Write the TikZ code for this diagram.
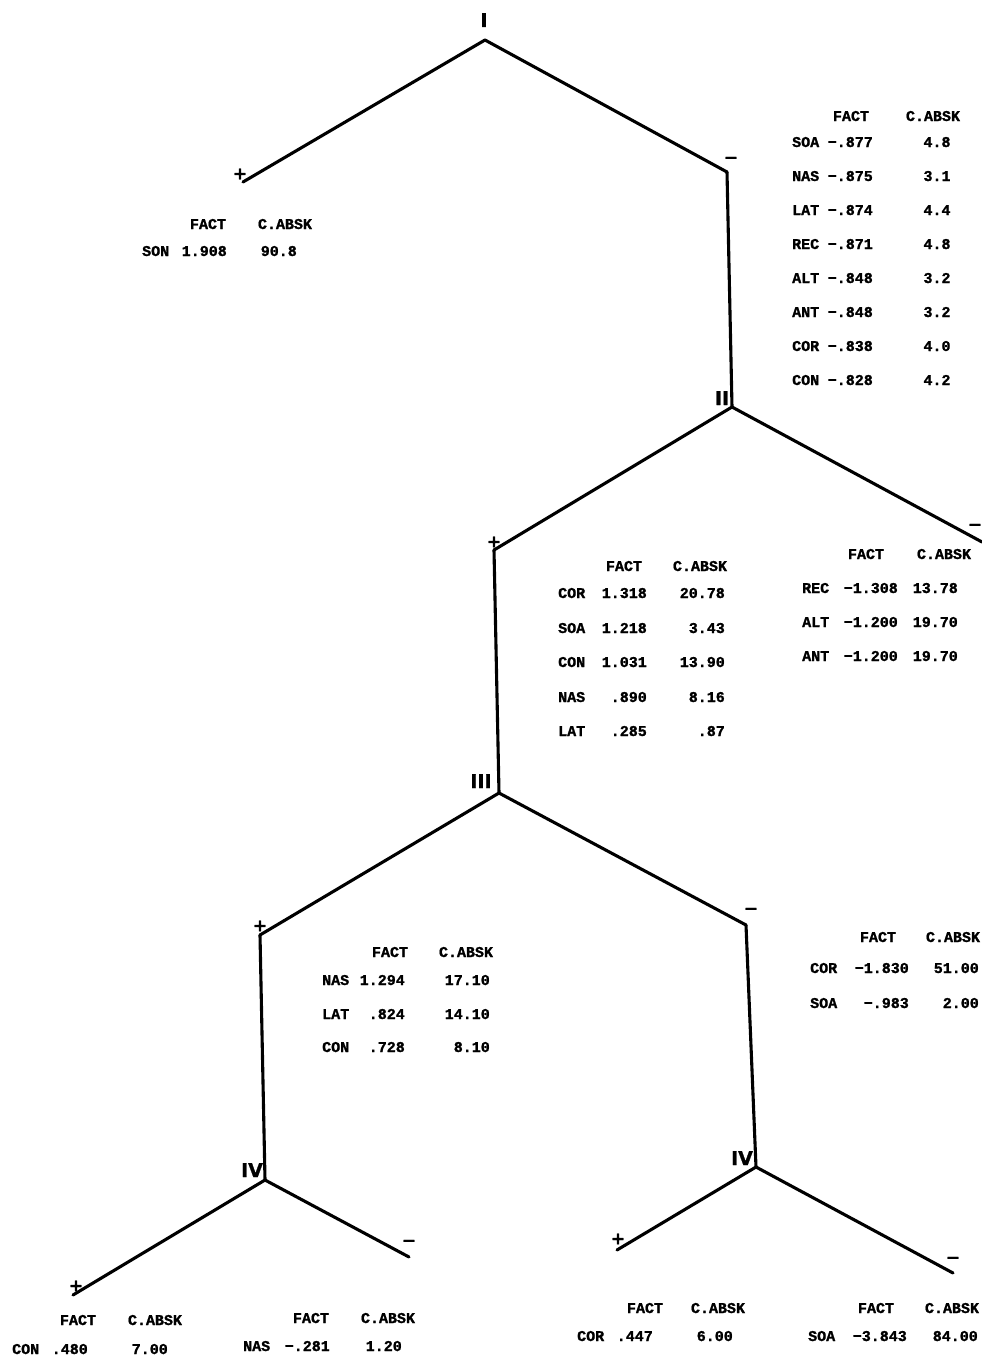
\documentclass[tikz,border=0pt]{standalone}
\usepackage{fontspec}
\setmainfont{DejaVu Sans}
\newfontfamily\tabfont[FakeBold=1.2]{Liberation Mono Bold}
\newfontfamily\signfont[FakeBold=1]{DejaVu Sans Bold}
\begin{document}
\begin{tikzpicture}[x=1pt,y=-1pt,
  br/.style={line width=3.1pt, line cap=round, line join=round},
  tx/.style={font=\tabfont\fontsize{15}{15}\selectfont, inner sep=0pt, text height=10pt, text depth=0pt},
  hd/.style={tx, anchor=center},
  nm/.style={tx, anchor=west},
  vl/.style={tx, anchor=east},
  sg/.style={font=\signfont\fontsize{17}{17}\selectfont, inner sep=0pt},
  rn/.style={font=\signfont\fontsize{19}{19}\selectfont, inner sep=0pt, text height=14pt, text depth=0pt}]
\fill[white] (0,0) rectangle (982,1357);
\useasboundingbox (0,0) rectangle (982,1357);

% ---------- junctions and branch ends ----------
\coordinate (jI) at (485,40);
\coordinate (eIp) at (243,182);
\coordinate (eIm) at (727,172);
\coordinate (jII) at (732,407);
\coordinate (eIIp) at (494,550);
\coordinate (eIIm) at (982,542);
\coordinate (jIII) at (499,793);
\coordinate (eIIIp) at (260,935);
\coordinate (eIIIm) at (746,925);
\coordinate (jIVa) at (265,1180);
\coordinate (jIVb) at (756,1167);
\coordinate (eIVap) at (73,1295);
\coordinate (eIVam) at (409,1257);
\coordinate (eIVbp) at (617,1250);
\coordinate (eIVbm) at (953,1273);

% ---------- branches ----------
\draw[br] (eIp) -- (jI) -- (eIm);
\draw[br] (eIm) -- (jII);
\draw[br] (eIIp) -- (jII) -- (eIIm);
\draw[br] (eIIp) -- (jIII);
\draw[br] (eIIIp) -- (jIII) -- (eIIIm);
\draw[br] (eIIIp) -- (jIVa);
\draw[br] (eIIIm) -- (jIVb);
\draw[br] (eIVap) -- (jIVa) -- (eIVam);
\draw[br] (eIVbp) -- (jIVb) -- (eIVbm);

% ---------- roman labels ----------
\node[rn] (lI) at (484,20) {I};
\node[rn] (lII) at (722,398) {II};
\node[rn] (lIII) at (481,781) {III};
\node[rn] (lIVa) at (252,1170) {IV};
\node[rn] (lIVb) at (742,1158) {IV};

% ---------- signs ----------
\node[sg] (sIp) at (240,174) {+};
\node[sg] (sIm) at (731,160) {−};
\node[sg] (sIIp) at (494,542) {+};
\node[sg] (sIIm) at (975,527) {−};
\node[sg] (sIIIp) at (260,926) {+};
\node[sg] (sIIIm) at (751,911) {−};
\node[sg] (sIVap) at (76,1286) {+};
\node[sg] (sIVam) at (409,1243) {−};
\node[sg] (sIVbp) at (618,1239) {+};
\node[sg] (sIVbm) at (953,1260) {−};

% ---------- table I+ ----------
\node[hd] (t1h1) at (208,224) {FACT};
\node[hd] (t1h2) at (285,224) {C.ABSK};
\node[nm] (t1a) at (142,251) {SON};
\node[vl] (t1b) at (227,251) {1.908};
\node[vl] (t1c) at (297,251) {90.8};

% ---------- table I- ----------
\node[hd] (t2h1) at (851,116) {FACT};
\node[hd] (t2h2) at (933,116) {C.ABSK};
\foreach \n/\f/\c [count=\k from 0] in {SOA/−.877/4.8, NAS/−.875/3.1, LAT/−.874/4.4, REC/−.871/4.8, ALT/−.848/3.2, ANT/−.848/3.2, COR/−.838/4.0, CON/−.828/4.2}{
  \node[nm] (t2n\k) at (792,142+34*\k) {\n};
  \node[vl] (t2f\k) at (873,142+34*\k) {\f};
  \node[hd] (t2c\k) at (937,142+34*\k) {\c};
}

% ---------- table II+ ----------
\node[hd] (t3h1) at (624,566) {FACT};
\node[hd] (t3h2) at (700,566) {C.ABSK};
\foreach \n/\f/\c/\y [count=\k] in {COR/1.318/20.78/593, SOA/1.218/3.43/628, CON/1.031/13.90/662, NAS/.890/8.16/697, LAT/.285/.87/731}{
  \node[nm] (t3n\k) at (558,\y) {\n};
  \node[vl] (t3f\k) at (647,\y) {\f};
  \node[vl] (t3c\k) at (725,\y) {\c};
}

% ---------- table II- ----------
\node[hd] (t4h1) at (866,554) {FACT};
\node[hd] (t4h2) at (944,554) {C.ABSK};
\foreach \n/\f/\c/\y [count=\k] in {REC/−1.308/13.78/588, ALT/−1.200/19.70/622, ANT/−1.200/19.70/656}{
  \node[nm] (t4n\k) at (802,\y) {\n};
  \node[vl] (t4f\k) at (898,\y) {\f};
  \node[vl] (t4c\k) at (958,\y) {\c};
}

% ---------- table III+ ----------
\node[hd] (t5h1) at (390,952) {FACT};
\node[hd] (t5h2) at (466,952) {C.ABSK};
\foreach \n/\f/\c/\y [count=\k] in {NAS/1.294/17.10/980, LAT/.824/14.10/1014, CON/.728/8.10/1047}{
  \node[nm] (t5n\k) at (322,\y) {\n};
  \node[vl] (t5f\k) at (405,\y) {\f};
  \node[vl] (t5c\k) at (490,\y) {\c};
}

% ---------- table III- ----------
\node[hd] (t6h1) at (878,937) {FACT};
\node[hd] (t6h2) at (953,937) {C.ABSK};
\foreach \n/\f/\c/\y [count=\k] in {COR/−1.830/51.00/968, SOA/−.983/2.00/1003}{
  \node[nm] (t6n\k) at (810,\y) {\n};
  \node[vl] (t6f\k) at (909,\y) {\f};
  \node[vl] (t6c\k) at (979,\y) {\c};
}

% ---------- table IV (left) + ----------
\node[hd] (t7h1) at (78,1320) {FACT};
\node[hd] (t7h2) at (155,1320) {C.ABSK};
\node[nm] (t7n) at (12,1349) {CON};
\node[vl] (t7f) at (88,1349) {.480};
\node[vl] (t7c) at (168,1349) {7.00};

% ---------- table IV (left) - ----------
\node[hd] (t8h1) at (311,1318) {FACT};
\node[hd] (t8h2) at (388,1318) {C.ABSK};
\node[nm] (t8n) at (243,1346) {NAS};
\node[vl] (t8f) at (330,1346) {−.281};
\node[vl] (t8c) at (402,1346) {1.20};

% ---------- table IV (right) + ----------
\node[hd] (t9h1) at (645,1308) {FACT};
\node[hd] (t9h2) at (718,1308) {C.ABSK};
\node[nm] (t9n) at (577,1336) {COR};
\node[vl] (t9f) at (653,1336) {.447};
\node[vl] (t9c) at (733,1336) {6.00};

% ---------- table IV (right) - ----------
\node[hd] (t10h1) at (876,1308) {FACT};
\node[hd] (t10h2) at (952,1308) {C.ABSK};
\node[nm] (t10n) at (808,1336) {SOA};
\node[vl] (t10f) at (907,1336) {−3.843};
\node[vl] (t10c) at (978,1336) {84.00};
\end{tikzpicture}
\end{document}
